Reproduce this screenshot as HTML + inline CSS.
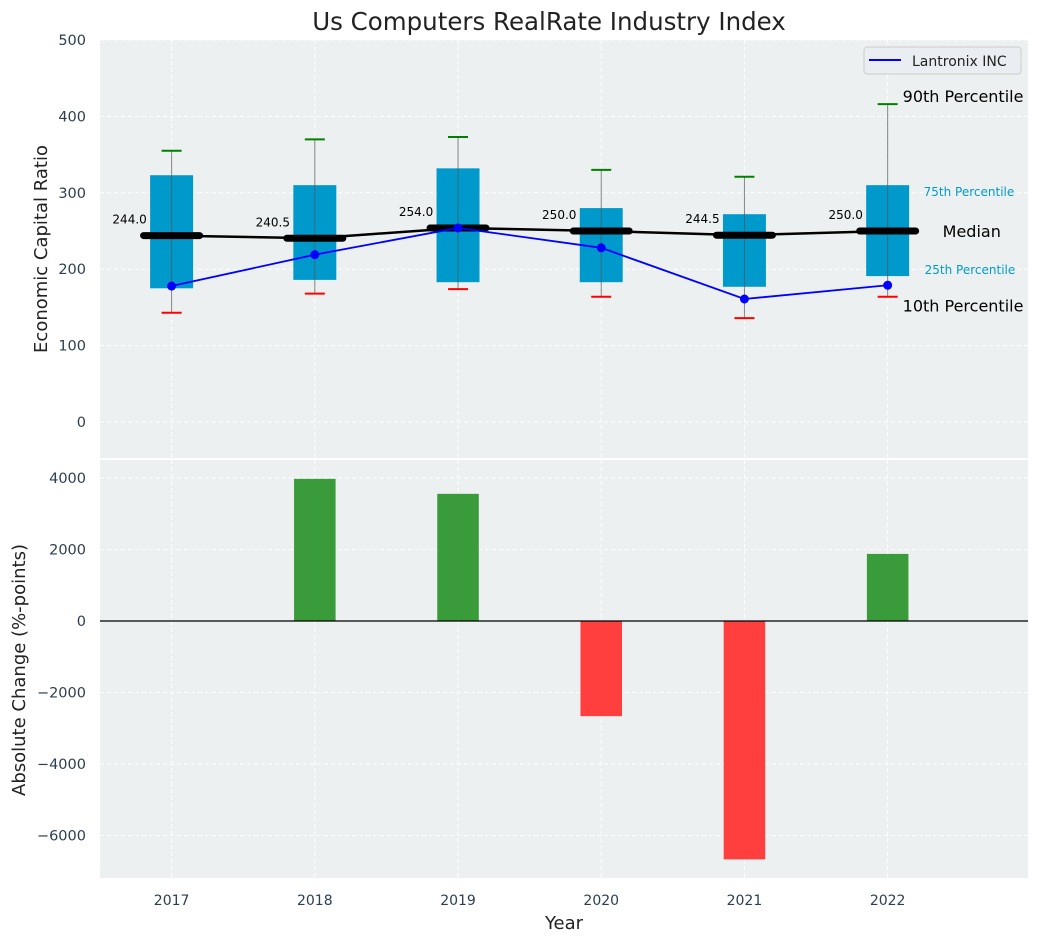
<!DOCTYPE html>
<html><head><meta charset="utf-8"><style>body{margin:0;background:#fff}svg{display:block;font-family:"DejaVu Sans","Liberation Sans",sans-serif}</style></head>
<body>
<svg id="c" width="1039" height="942"></svg>
<script>
const years=[2017,2018,2019,2020,2021,2022];
const p10=[143,168,174,164,136,164];
const q1=[175,186,183,183,177,191];
const med=[244,240.5,254,250,244.5,250];
const q3=[323,310,332,280,272,310];
const p90=[355,370,373,330,321,416];
const lantronix=[178,219,254,228,161,179];
const changes=[0,3977,3557,-2661,-6667,1877];
const topTicks=[0,100,200,300,400,500];
const botTicks=[-6000,-4000,-2000,0,2000,4000];

const NS="http://www.w3.org/2000/svg",svg=document.getElementById('c');
function el(t,a,txt,parent){const e=document.createElementNS(NS,t);for(const k in a)e.setAttribute(k,a[k]);if(txt!==undefined)e.textContent=txt;(parent||svg).appendChild(e);return e;}
const L=100,R=1028;
const x=v=>L+(v-2016.5)/(6.48)*(R-L);
const yT=v=>422-v*0.764;
const yB=v=>621-v*(143/4000);
const fmt=t=>(t<0?'\u2212':'')+Math.abs(t);

let e=el('rect',{x:L,y:40,width:R-L,height:418,fill:'#ecf0f0'});

e=el('rect',{x:L,y:460,width:R-L,height:418,fill:'#ecf0f0'});

years.forEach(yr=>{el('line',{x1:x(yr),x2:x(yr),y1:40,y2:458,stroke:'#fff','stroke-dasharray':'4,3'});el('line',{x1:x(yr),x2:x(yr),y1:460,y2:878,stroke:'#fff','stroke-dasharray':'4,3'});
 e=el('text',{x:x(yr),y:905,'text-anchor':'middle','font-size':14,fill:'#2c3e50'},yr);});
topTicks.forEach(t=>{el('line',{x1:L,x2:R,y1:yT(t),y2:yT(t),stroke:'#fff','stroke-dasharray':'4,3'});
 e=el('text',{x:86,y:yT(t)+5,'text-anchor':'end','font-size':14.5,fill:'#2c3e50'},t);});
botTicks.forEach(t=>{el('line',{x1:L,x2:R,y1:yB(t),y2:yB(t),stroke:'#fff','stroke-dasharray':'4,3'});
 e=el('text',{x:86,y:yB(t)+5,'text-anchor':'end','font-size':14.5,fill:'#2c3e50'},fmt(t));});
const bw=0.3*(R-L)/6.48;
years.forEach((yr,i)=>{const cx=x(yr);
 e=el('rect',{x:cx-bw/2,y:yT(q3[i]),width:bw,height:yT(q1[i])-yT(q3[i]),fill:'#0099cc'});
 el('line',{x1:cx,x2:cx,y1:yT(p90[i]),y2:yT(p10[i]),stroke:'#555','stroke-width':1,opacity:0.7});
 el('line',{x1:cx-10,x2:cx+10,y1:yT(p90[i]),y2:yT(p90[i]),stroke:'green','stroke-width':2});
 el('line',{x1:cx-10,x2:cx+10,y1:yT(p10[i]),y2:yT(p10[i]),stroke:'red','stroke-width':2});
});
e=el('polyline',{points:years.map((yr,i)=>x(yr)+','+yT(med[i])).join(' '),fill:'none',stroke:'#000','stroke-width':2.5});
years.forEach((yr,i)=>{const cx=x(yr);
 el('line',{x1:cx-28,x2:cx+28,y1:yT(med[i]),y2:yT(med[i]),stroke:'#000','stroke-width':7,'stroke-linecap':'round'});
 e=el('text',{x:cx-42,y:yT(med[i])-12,'text-anchor':'middle','font-size':12},med[i].toFixed(1));});
e=el('polyline',{points:years.map((yr,i)=>x(yr)+','+yT(lantronix[i])).join(' '),fill:'none',stroke:'blue','stroke-width':1.8});
years.forEach((yr,i)=>{e=el('circle',{cx:x(yr),cy:yT(lantronix[i]),r:4.5,fill:'blue'});});
const lx=x(2022);
el('text',{x:lx+15,y:yT(p90[5])-2,'font-size':16},'90th Percentile');
el('text',{x:lx+15,y:yT(p10[5])+15,'font-size':16},'10th Percentile');
el('text',{x:lx+55,y:yT(med[5])+6,'font-size':16},'Median');
el('text',{x:lx+36,y:yT(q3[5])+11,'font-size':12,fill:'#0099cc'},'75th Percentile');
el('text',{x:lx+37,y:yT(q1[5])-2,'font-size':12,fill:'#0099cc'},'25th Percentile');
e=el('rect',{x:864,y:47,width:157,height:27,rx:3,fill:'#eaeef2',stroke:'#ccc'});
el('line',{x1:869,x2:901,y1:60,y2:60,stroke:'blue','stroke-width':2});
el('text',{x:912,y:66,'font-size':14,fill:'#222'},'Lantronix INC');
const bbw=0.29*(R-L)/6.48;
years.forEach((yr,i)=>{const v=changes[i];if(!v)return;
 e=el('rect',{x:x(yr)-bbw/2,y:Math.min(yB(v),yB(0)),width:bbw,height:Math.abs(yB(v)-yB(0)),fill:v>0?'#3a9b3a':'#ff3e3e'});});
el('line',{x1:L,x2:R,y1:yB(0),y2:yB(0),stroke:'#000','stroke-width':1.2});
e=el('text',{x:549,y:30,'text-anchor':'middle','font-size':24.5,fill:'#222'},'Us Computers RealRate Industry Index');
e=el('text',{x:564,y:929,'text-anchor':'middle','font-size':18,fill:'#222'},'Year');
e=el('text',{x:47,y:249,'text-anchor':'middle','font-size':18,fill:'#222',transform:'rotate(-90 47 249)'},'Economic Capital Ratio');
e=el('text',{x:25,y:670,'text-anchor':'middle','font-size':18,fill:'#222',transform:'rotate(-90 25 670)'},'Absolute Change (%-points)');
</script>
</body></html>
